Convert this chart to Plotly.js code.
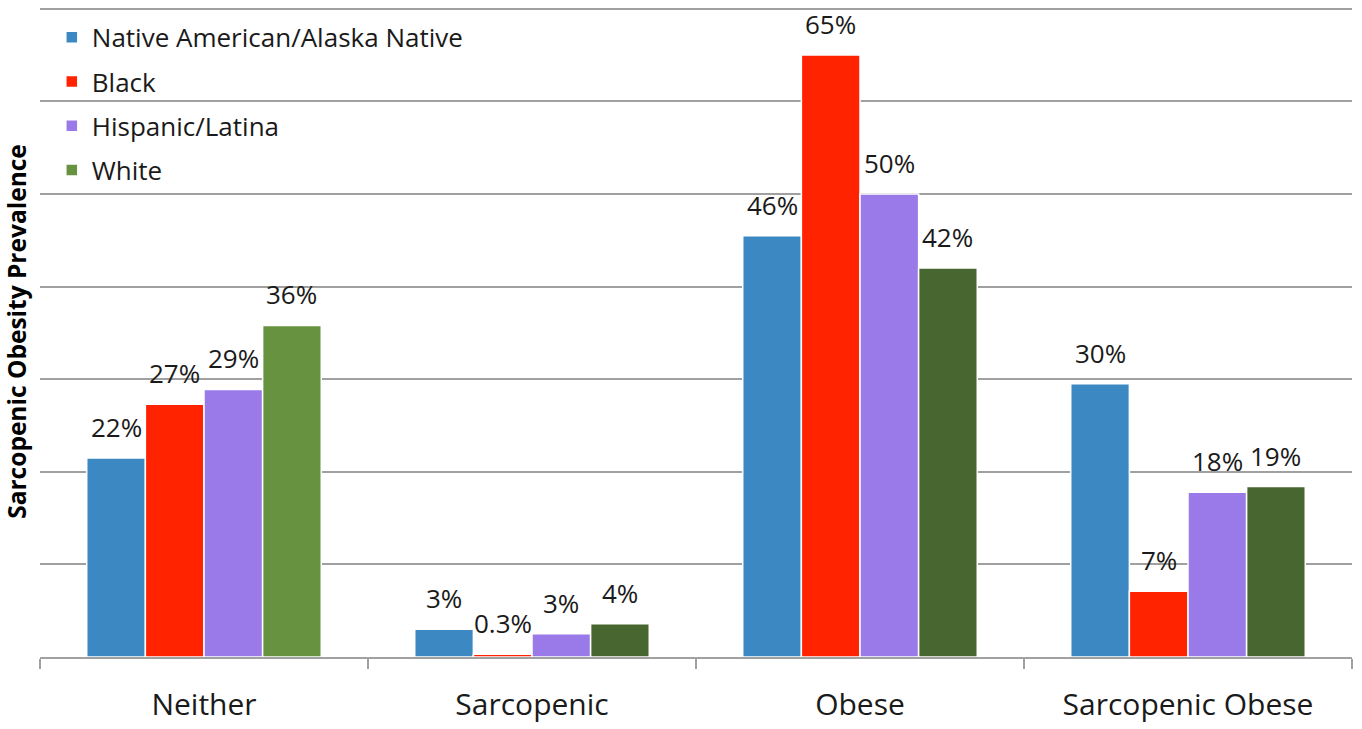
<!DOCTYPE html>
<html>
<head>
<meta charset="utf-8">
<script src="https://cdn.plot.ly/plotly-3.0.1.min.js"></script>
<style>html,body{margin:0;padding:0;background:#fff;}#chart{width:1362px;height:729px;}</style>
</head>
<body>
<div id="chart"></div>
<script>
const categories = ["Neither", "Sarcopenic", "Obese", "Sarcopenic Obese"];
const seriesNames = ["Native American/Alaska Native", "Black", "Hispanic/Latina", "White"];
const nativeAmerican = [21.5, 3.0, 45.5, 29.5];
const black = [27.3, 0.3, 65.0, 7.1];
const hispanic = [28.9, 2.5, 50.0, 17.8];
const white = [35.8, 3.6, 42.0, 18.4];
const nativeLabels = ["22%", "3%", "46%", "30%"];
const blackLabels = ["27%", "0.3%", "65%", "7%"];
const hispanicLabels = ["29%", "3%", "50%", "18%"];
const whiteLabels = ["36%", "4%", "42%", "19%"];

const seriesValues = [nativeAmerican, black, hispanic, white];
const seriesLabels = [nativeLabels, blackLabels, hispanicLabels, whiteLabels];
const seriesColors = [
  "#3b88c3",
  "#ff2300",
  "#9a7ae9",
  ["#67923f", "#48662f", "#48662f", "#48662f"]
];

const font = "'Open Sans', 'Liberation Sans', sans-serif";
const bargap = 0.285;

const traces = seriesNames.map((name, j) => ({
  type: "bar",
  name: name,
  legendgroup: "g" + j,
  x: categories,
  y: seriesValues[j],
  marker: { color: seriesColors[j], line: { color: "#ffffff", width: 1.5 } },
  hoverinfo: "skip"
}));

const w = (1 - bargap) / seriesNames.length;
const annotations = [];
seriesValues.forEach((vals, j) => {
  vals.forEach((v, i) => {
    annotations.push({
      x: i + (j - (seriesNames.length - 1) / 2) * w,
      y: v,
      xref: "x", yref: "y",
      text: seriesLabels[j][i],
      showarrow: false,
      yanchor: "bottom",
      yshift: 11,
      font: { family: font, size: 26, color: "#1a1a1a" }
    });
  });
});

const layout = {
  width: 1362, height: 729,
  paper_bgcolor: "#ffffff", plot_bgcolor: "#ffffff",
  margin: { l: 40, r: 10, t: 6, b: 72 },
  barmode: "group",
  bargap: bargap,
  bargroupgap: 0,
  showlegend: true,
  legend: {
    x: 0.009, y: 0.988, xanchor: "left", yanchor: "top",
    bgcolor: "rgba(0,0,0,0)",
    font: { family: font, size: 26, color: "#1a1a1a" },
    traceorder: "grouped",
    tracegroupgap: 7.5
  },
  xaxis: {
    type: "category",
    tickson: "boundaries",
    ticks: "outside", ticklen: 10, tickwidth: 2, tickcolor: "#a0a0a0",
    showline: true, linecolor: "#a0a0a0", linewidth: 2,
    showgrid: false,
    tickfont: { family: font, size: 30, color: "#1a1a1a" },
    ticklabelstandoff: 20
  },
  yaxis: {
    range: [0, 70.3],
    dtick: 10,
    showticklabels: false,
    showgrid: true, gridcolor: "#a0a0a0", gridwidth: 2,
    zeroline: false, showline: false,
    automargin: false,
    title: { text: "Sarcopenic Obesity Prevalence", font: { family: font, size: 24.5, color: "#000000", weight: "bold" }, standoff: 5 }
  },
  annotations: annotations
};

Plotly.newPlot("chart", traces, layout, { displayModeBar: false, staticPlot: true });
</script>
</body>
</html>
